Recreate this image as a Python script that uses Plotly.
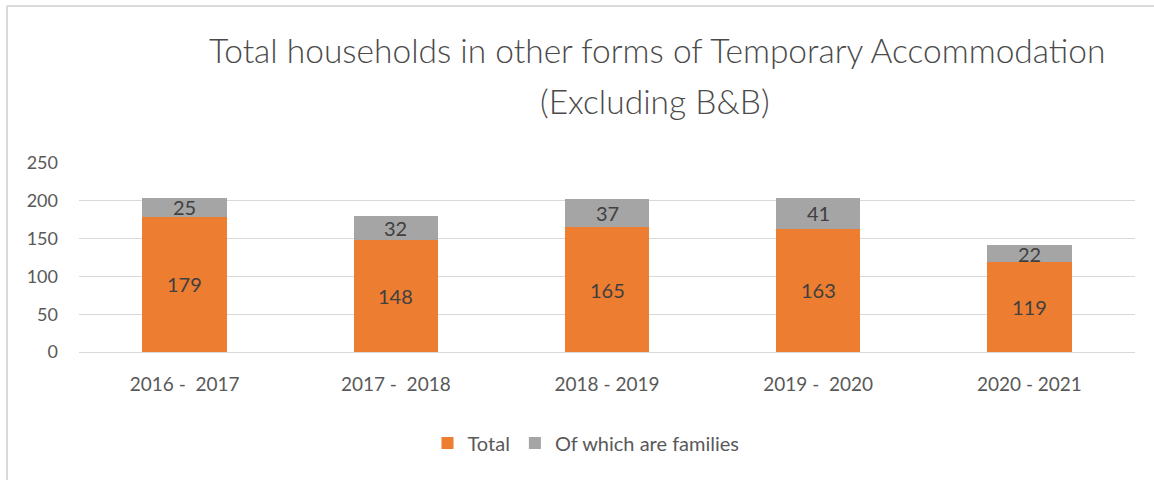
import plotly.graph_objects as go

categories = ["2016 -\u00a0 2017", "2017 -\u00a0 2018", "2018 - 2019", "2019 -\u00a0 2020", "2020 - 2021"]
total = [179, 148, 165, 163, 119]
families = [25, 32, 37, 41, 22]

ORANGE = "#ED7D31"
GREY = "#A5A5A5"
TXT = "#595959"
TITLE = "#4A4A4A"
LBL = "#404040"
FONT = "Lato"

W, H = 1154, 480
ML, MR, MT, MB = 79, 19, 163, 128
PW, PH = W - ML - MR, H - MT - MB

def px2x(px):
    return (px - ML) / PW

def px2y(py):
    return (H - MB - py) / PH

fig = go.Figure()
fig.add_trace(go.Bar(x=categories, y=total, name="Total", marker_color=ORANGE,
                     marker_line_width=0))
fig.add_trace(go.Bar(x=categories, y=families, name="Of which are families",
                     marker_color=GREY, marker_line_width=0))

annotations = []
for c, t, f in zip(categories, total, families):
    annotations.append(dict(x=c, y=t / 2, text=str(t), showarrow=False,
                            font=dict(family=FONT, size=20, color=LBL)))
    annotations.append(dict(x=c, y=t + f / 2, text=str(f), showarrow=False,
                            font=dict(family=FONT, size=20, color=LBL)))

annotations.append(dict(xref="paper", yref="paper", x=px2x(657), y=px2y(50),
                        text="Total households in other forms of Temporary Accommodation",
                        showarrow=False,
                        font=dict(family=FONT, size=33.5, color=TITLE, weight=300),
                        xanchor="center", yanchor="middle"))
annotations.append(dict(xref="paper", yref="paper", x=px2x(655), y=px2y(101),
                        text="(Excluding B&amp;B)",
                        showarrow=False,
                        font=dict(family=FONT, size=33.5, color=TITLE, weight=300),
                        xanchor="center", yanchor="middle"))

shapes = [
    dict(type="line", xref="paper", yref="paper", x0=px2x(7), x1=px2x(1160),
         y0=px2y(6), y1=px2y(6), line=dict(color="#D9D9D9", width=2)),
    dict(type="line", xref="paper", yref="paper", x0=px2x(7), x1=px2x(7),
         y0=px2y(6), y1=px2y(490), line=dict(color="#D9D9D9", width=2)),
]

fig.update_layout(
    barmode="stack",
    bargap=0.6,
    width=W, height=H,
    margin=dict(l=ML, r=MR, t=MT, b=MB, autoexpand=False),
    paper_bgcolor="white",
    plot_bgcolor="white",
    font=dict(family=FONT, color=TXT),
    showlegend=True,
    legend=dict(orientation="h", x=px2x(586), y=px2y(443), xanchor="center",
                yanchor="middle", font=dict(family=FONT, size=20, color=TXT),
                itemwidth=30, traceorder="normal", itemsizing="constant"),
    annotations=annotations,
    shapes=shapes,
    xaxis=dict(showgrid=False, showline=True, linecolor="#D9D9D9", linewidth=1,
               tickfont=dict(family=FONT, size=19, color=TXT),
               ticklabelstandoff=15, fixedrange=True),
    yaxis=dict(range=[0, 250], dtick=50, showgrid=True, gridcolor="#D9D9D9",
               gridwidth=1, zeroline=False, showline=False,
               tickfont=dict(family=FONT, size=18, color=TXT),
               ticklabelstandoff=20, fixedrange=True),
)

fig.write_html("out.html", config={"displayModeBar": False},
               post_script="document.body.style.margin='0';document.body.style.overflow='hidden';")
